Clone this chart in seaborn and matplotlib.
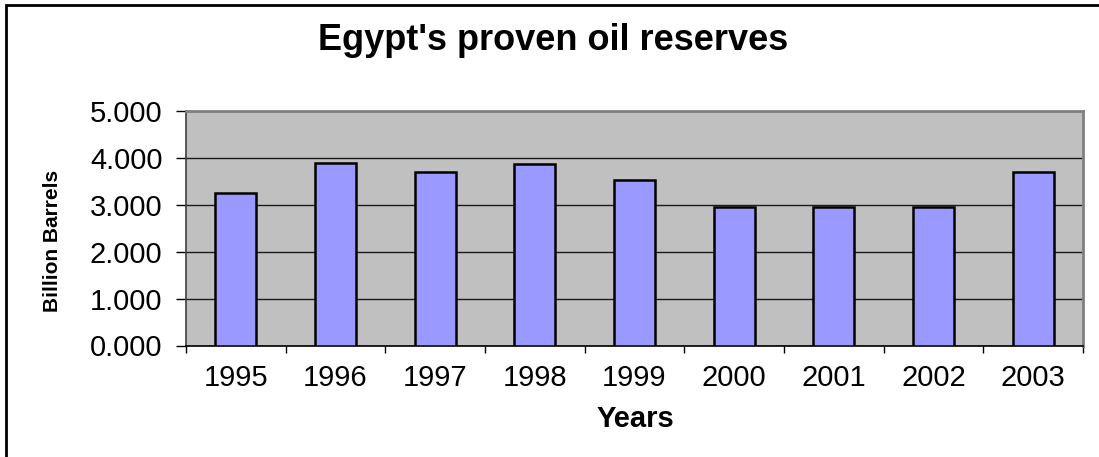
import matplotlib
matplotlib.use("Agg")
import matplotlib.pyplot as plt
import seaborn as sns
import pandas as pd
import numpy as np
from matplotlib.patches import Rectangle
from matplotlib.ticker import FixedLocator, FuncFormatter

years = ["1995", "1996", "1997", "1998", "1999", "2000", "2001", "2002", "2003"]
reserves = [3.26, 3.89, 3.70, 3.86, 3.52, 2.95, 2.95, 2.95, 3.70]
y_ticks = [0, 1, 2, 3, 4, 5]

sns.set_theme(style="white")
plt.rcParams['font.family'] = ['Liberation Sans', 'DejaVu Sans']

df = pd.DataFrame({"Year": years, "Reserves": reserves})

fig = plt.figure(figsize=(10.99, 4.57), dpi=100)
ax = fig.add_axes([186/1099, 1-345.5/457, (1083-186)/1099, (345.5-111)/457])
ax.set_facecolor("#C0C0C0")

sns.barplot(data=df, x="Year", y="Reserves", color="#9999FF", width=0.41,
            edgecolor="black", linewidth=1.8, saturation=1, ax=ax, zorder=3)

ax.set_ylim(0, 5)
ax.set_xlim(-0.5, len(years) - 0.5)
ax.yaxis.set_major_locator(FixedLocator(y_ticks))
ax.yaxis.set_major_formatter(FuncFormatter(lambda v, p: f"{v:.3f}"))
ax.grid(axis="y", color="#1a1a1a", linewidth=1.0, zorder=1)
ax.set_axisbelow(True)

ax.set_xticks(range(len(years)))
ax.set_xticklabels(years)
ax.xaxis.set_minor_locator(FixedLocator(np.arange(-0.5, len(years), 1.0)))
ax.tick_params(axis="x", which="major", length=0, pad=13, labelsize=21, colors="black")
ax.tick_params(axis="x", which="minor", length=5, width=1, color="black", direction="out")
ax.tick_params(axis="y", which="major", length=7, width=1, color="black", direction="out",
               pad=10, labelsize=21, labelcolor="black")
ax.tick_params(bottom=True, left=True, which="both")

for s in ["top", "right"]:
    ax.spines[s].set_color("#808080")
    ax.spines[s].set_linewidth(2)
ax.spines["left"].set_color("#404040")
ax.spines["left"].set_linewidth(1.2)
ax.spines["bottom"].set_color("black")
ax.spines["bottom"].set_linewidth(1.2)

ax.set_xlabel("")
ax.set_ylabel("")
fig.text(635/1099, 1-419/457, "Years", ha="center", va="center", fontsize=21,
         fontweight="bold", color="black")
fig.text(53/1099, 1-241/457, "Billion Barrels", ha="center", va="center", rotation=90,
         fontsize=15, fontweight="bold", color="black")
fig.text(553/1099, 1-41/457, "Egypt's proven oil reserves", ha="center", va="center",
         fontsize=26, fontweight="bold", color="black")

fig.patches.append(Rectangle((6/1099, -0.1), 1.2, 1 - 5/457 + 0.1, transform=fig.transFigure,
                             fill=False, edgecolor="black", linewidth=2))

fig.savefig("out.png", dpi=100, facecolor="white")
